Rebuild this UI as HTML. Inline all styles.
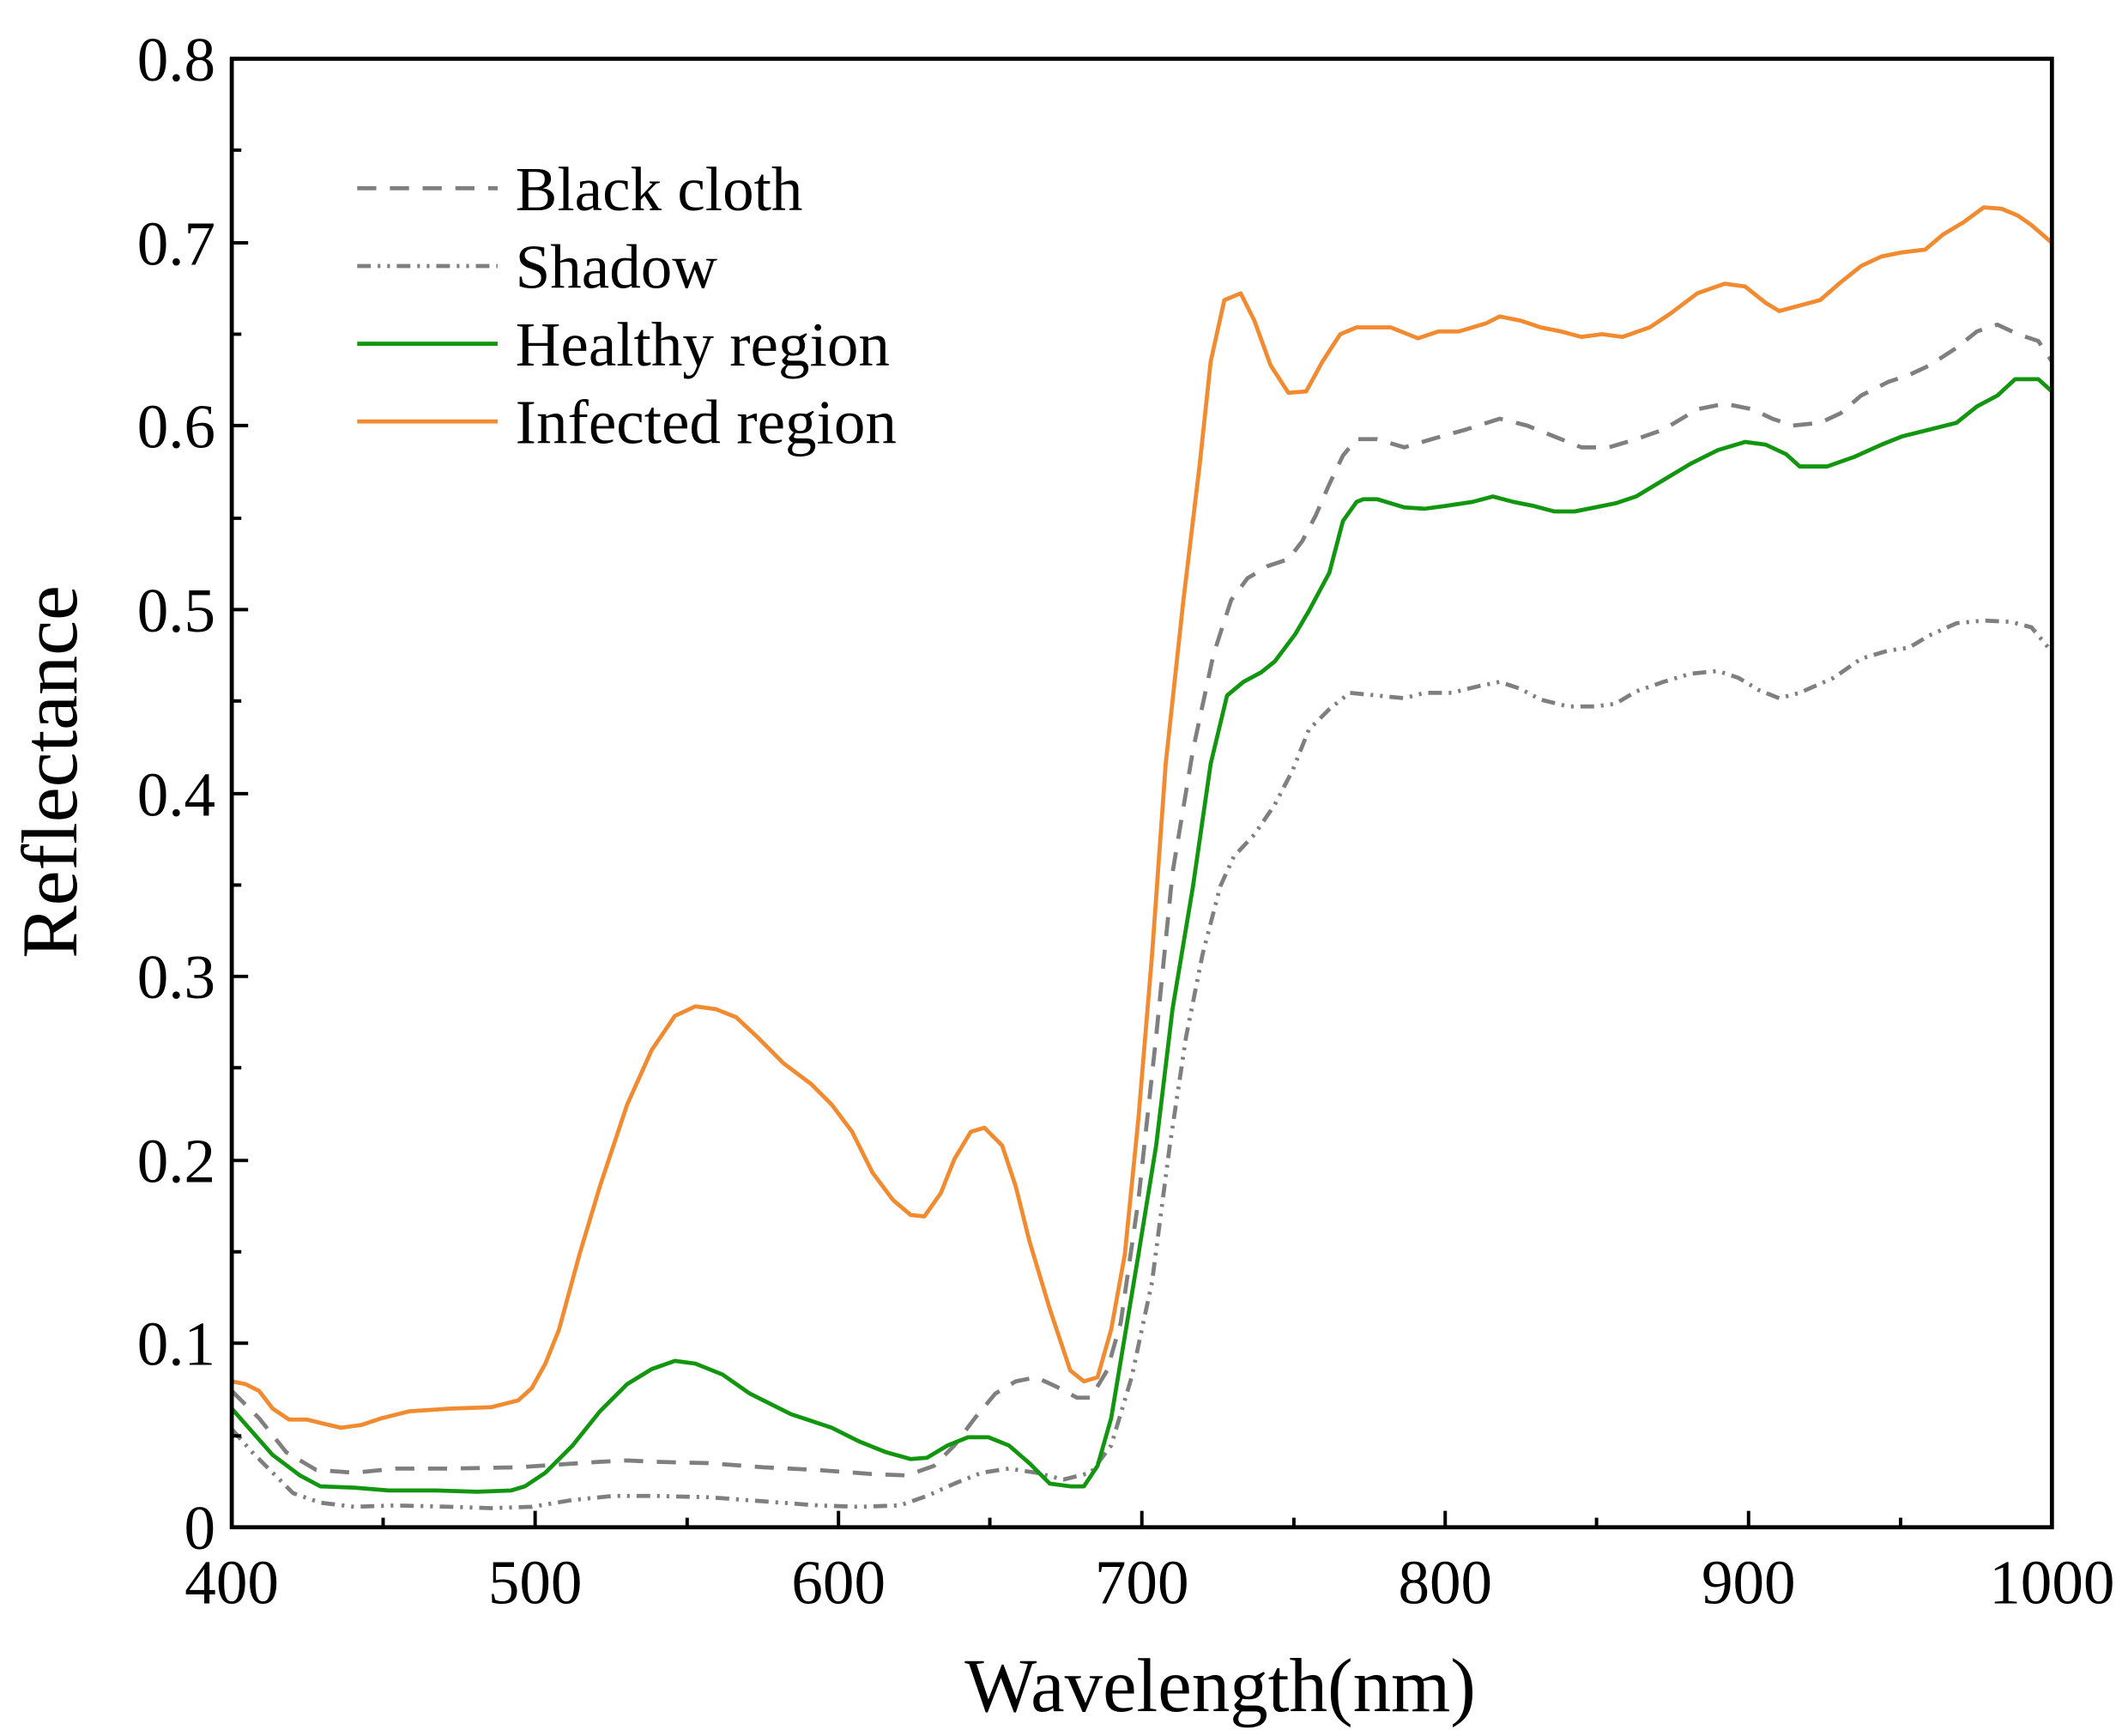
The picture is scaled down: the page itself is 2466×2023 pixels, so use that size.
<!DOCTYPE html>
<html><head><style>html,body{margin:0;padding:0;background:#fff}svg{display:block}</style></head>
<body>
<svg width="2466" height="2023" viewBox="0 0 1552 1273" xmlns="http://www.w3.org/2000/svg" font-family="'Liberation Serif',serif">
<rect width="1552" height="1273" fill="#fff"/>
<g fill="none" stroke-width="3" stroke-linejoin="round">
<path stroke="#7f7f7f" stroke-dasharray="10,5,2,5,2,5" d="M170,1048 L185,1065 200,1080 215,1095 235,1102 260,1105 290,1104 330,1105 360,1106 390,1105 420,1100 450,1097 480,1097 520,1098 560,1101 600,1104 630,1105 660,1104 680,1097 700,1088 720,1080 740,1077 760,1080 780,1085 800,1080 815,1060 830,1010 845,940 858,840 870,760 882,700 895,650 905,628 920,612 935,590 948,565 960,535 975,520 990,508 1010,510 1030,512 1045,508 1065,508 1085,503 1100,500 1115,505 1130,513 1150,518 1170,518 1185,516 1200,507 1220,500 1240,494 1260,492 1275,497 1290,506 1305,512 1320,508 1345,497 1365,483 1385,477 1400,475 1415,466 1435,457 1455,455 1475,456 1490,460 1505,478"/>
<path stroke="#7f7f7f" stroke-dasharray="14,10" d="M170,1020 L190,1040 210,1065 232,1078 260,1080 290,1077 330,1077 380,1076 410,1074 440,1072 460,1071 480,1072 520,1073 560,1076 600,1078 640,1081 665,1082 685,1075 700,1060 715,1040 730,1022 745,1013 760,1010 775,1017 790,1025 800,1025 812,1005 822,970 835,880 848,760 860,640 875,550 890,480 903,440 915,424 930,415 945,410 955,397 965,378 975,355 985,334 995,322 1010,322 1030,328 1050,322 1075,315 1100,307 1120,312 1140,320 1160,328 1180,328 1200,322 1220,315 1245,300 1265,296 1285,300 1300,307 1315,312 1335,310 1350,303 1365,290 1385,280 1400,275 1415,268 1435,255 1450,243 1465,238 1480,245 1495,250 1505,265"/>
<path stroke="#12960f" d="M170,1033 L185,1050 200,1067 220,1082 235,1090 260,1091 285,1093 320,1093 350,1094 375,1093 385,1090 400,1080 420,1060 440,1035 460,1015 478,1004 495,998 510,1000 530,1008 550,1022 580,1037 610,1047 630,1057 650,1065 668,1070 680,1069 695,1060 710,1054 725,1054 740,1060 755,1073 770,1088 785,1090 795,1090 805,1075 815,1040 825,980 835,920 848,840 860,740 875,650 888,560 900,510 912,500 925,493 935,485 950,465 960,448 975,420 985,382 995,368 1000,366 1010,366 1030,372 1045,373 1060,371 1080,368 1095,364 1110,368 1125,371 1140,375 1155,375 1170,372 1185,369 1200,364 1220,352 1240,340 1260,330 1280,324 1295,326 1310,333 1320,342 1340,342 1360,335 1380,326 1395,320 1415,315 1435,310 1450,298 1465,290 1478,278 1495,278 1505,287"/>
<path stroke="#f28a30" d="M170,1013 L180,1015 190,1020 200,1033 212,1041 225,1041 237,1044 250,1047 265,1045 280,1040 300,1035 330,1033 360,1032 380,1027 390,1018 400,1000 410,975 425,920 440,870 460,810 478,770 495,745 510,738 525,740 540,746 555,760 575,780 595,795 610,810 625,830 640,860 655,880 668,891 678,892 690,875 700,850 712,830 722,827 735,840 745,870 755,910 770,960 785,1005 795,1013 805,1010 815,975 825,920 835,820 845,700 855,560 868,440 880,340 888,265 898,220 910,215 920,235 932,268 945,288 958,287 970,265 983,245 995,240 1020,240 1040,248 1055,243 1070,243 1090,237 1100,232 1115,235 1130,240 1145,243 1160,247 1175,245 1190,247 1210,240 1225,230 1245,215 1265,208 1280,210 1295,222 1305,228 1320,224 1335,220 1350,207 1365,195 1380,188 1395,185 1412,183 1425,172 1440,163 1455,152 1468,153 1480,158 1490,165 1505,178"/>
</g>
<rect x="170" y="43" width="1335" height="1077" fill="none" stroke="#000" stroke-width="3"/>
<g stroke="#000" stroke-width="2.5">
<path d="M170,1120v-12M392.5,1120v-12M615,1120v-12M837.5,1120v-12M1060,1120v-12M1282.5,1120v-12M1505,1120v-12"/>
<path d="M281,1120v-7M504,1120v-7M726,1120v-7M949,1120v-7M1171,1120v-7M1394,1120v-7"/>
<path d="M170,985h12M170,851h12M170,716h12M170,582h12M170,447h12M170,312h12M170,178h12"/>
<path d="M170,1053h7M170,918h7M170,783h7M170,649h7M170,514h7M170,380h7M170,245h7M170,110h7"/>
</g>
<g font-size="46" fill="#000" text-anchor="end">
<text x="158" y="59">0.8</text><text x="158" y="194">0.7</text><text x="158" y="328">0.6</text><text x="158" y="463">0.5</text><text x="158" y="598">0.4</text><text x="158" y="732">0.3</text><text x="158" y="867">0.2</text><text x="158" y="1001">0.1</text><text x="158" y="1136">0</text>
</g>
<g font-size="46" fill="#000" text-anchor="middle">
<text x="170" y="1176">400</text><text x="392.5" y="1176">500</text><text x="615" y="1176">600</text><text x="837.5" y="1176">700</text><text x="1060" y="1176">800</text><text x="1282.5" y="1176">900</text><text x="1505" y="1176">1000</text>
</g>
<text x="895" y="1255" font-size="56" text-anchor="middle">Wavelength(nm)</text>
<text transform="translate(56,566) rotate(-90)" font-size="58" text-anchor="middle">Reflectance</text>
<g fill="none" stroke-width="3">
<path d="M262,138H365" stroke="#7f7f7f" stroke-dasharray="14,10"/>
<path d="M262,195H365" stroke="#7f7f7f" stroke-dasharray="10,5,2,5,2,5"/>
<path d="M262,252H365" stroke="#12960f"/>
<path d="M262,309H365" stroke="#f28a30"/>
</g>
<g font-size="46" fill="#000">
<text x="378" y="154">Black cloth</text><text x="378" y="211">Shadow</text><text x="378" y="268">Healthy region</text><text x="378" y="325">Infected region</text>
</g>
</svg>
</body></html>
